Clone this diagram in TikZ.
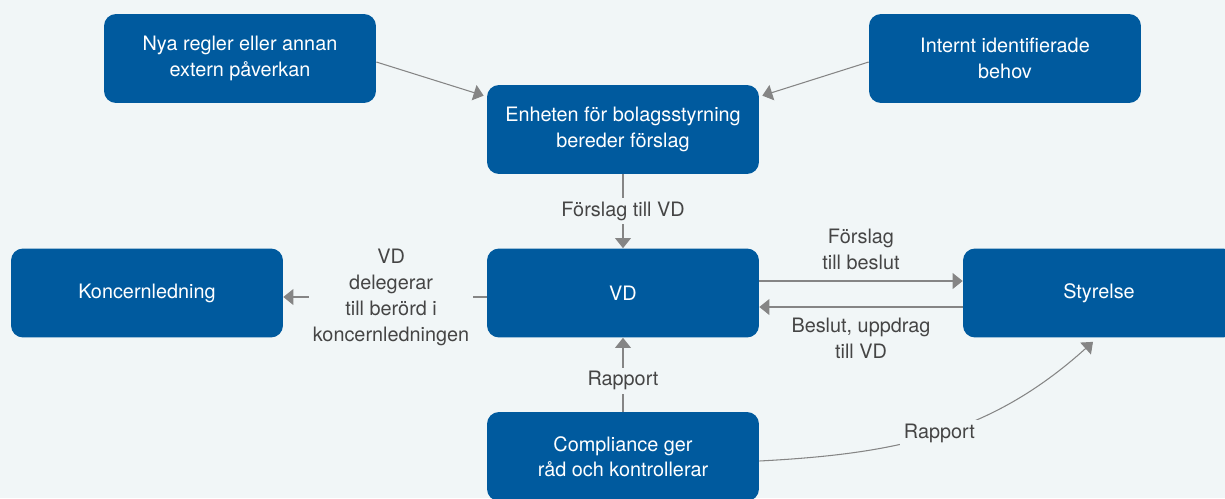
\documentclass[tikz,border=0pt]{standalone}
\usepackage{fontspec}
\setmainfont{TeX Gyre Heros}
\usetikzlibrary{arrows.meta}
\definecolor{boxblue}{HTML}{005A9E}
\definecolor{bgcol}{HTML}{F1F6F7}
\definecolor{linegray}{HTML}{858585}
\definecolor{labelgray}{HTML}{454545}

\begin{document}
\begin{tikzpicture}[x=0.02cm, y=-0.02cm,
    block/.style={rectangle, fill=boxblue, text=white, align=center, rounded corners=0.24cm, minimum width=5.44cm, minimum height=1.78cm, font=\fontsize{11.3}{14.4}\selectfont},
    lbl/.style={fill=bgcol, text=labelgray, align=center, inner sep=2pt, font=\fontsize{11.3}{14.8}\selectfont},
    line/.style={draw=linegray, line width=0.6pt, -{Triangle[length=5.7pt, width=9pt]}}]

    \fill [bgcol] (0,0) rectangle (1225,498);
    \useasboundingbox (0,0) rectangle (1225,498);

    \node [block] (rules) at (240,58.5) {Nya regler eller annan\\extern påverkan};
    \node [block] (internal) at (1005,58.5) {Internt identifierade\\behov};
    \node [block] (unit) at (623,129.5) {Enheten för bolagsstyrning\\bereder förslag};
    \node [block] (ceo) at (623,293) {VD};
    \node [block] (mgmt) at (147,293) {Koncernledning};
    \node [block] (board) at (1099,293) {Styrelse};
    \node [block] (compl) at (623,456.5) {Compliance ger\\råd och kontrollerar};

    \path [line] ([shift={(0,3.5)}]rules.east) -- ([shift={(-3,11)}]unit.north west);
    \path [line] ([shift={(0,3.5)}]internal.west) -- ([shift={(3,11)}]unit.north east);
    \path [line] (unit) -- node [lbl] {Förslag till VD} (ceo);
    \path [line] ([shift={(0,4)}]ceo.west) -- node [lbl, pos=0.47] {VD\\delegerar\\till berörd i\\koncernledningen} ([shift={(0,4)}]mgmt.east);
    \path [line] ([shift={(0,-12)}]ceo.east) -- node [lbl, above=4pt] {Förslag\\till beslut} ([shift={(0,-12)}]board.west);
    \path [line] ([shift={(0,14)}]board.west) -- node [lbl, below=4pt] {Beslut, uppdrag\\till VD} ([shift={(0,14)}]ceo.east);
    \path [line] (compl) -- node [lbl, pos=0.42] {Rapport} (ceo);
    \path [line] ([shift={(0,4.5)}]compl.east) to [out=3, in=-138] node [lbl, pos=0.5] {Rapport} ([shift={(-6,4)}]board.south);
\end{tikzpicture}
\end{document}
